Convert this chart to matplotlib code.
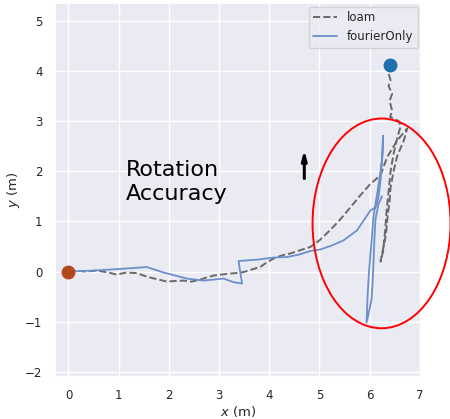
import numpy as np
import matplotlib
matplotlib.use("Agg")
import matplotlib.pyplot as plt
from matplotlib.patches import Ellipse
import seaborn as sns

# trajectory estimates (metres)
loam_x = [0.00, 0.10, 0.35, 0.57, 0.80, 0.96, 1.15, 1.36, 1.50, 1.63, 1.80, 1.96, 2.10,
          2.29, 2.45, 2.63, 2.75, 2.89, 3.05, 3.22, 3.35, 3.49, 3.65, 3.82, 3.95, 4.09,
          4.25, 4.42, 4.60, 4.82, 5.00, 5.21, 5.40, 5.62, 5.80, 6.02, 6.22, 6.35, 6.55,
          6.75, 6.68, 6.55, 6.48, 6.42, 6.40, 6.36, 6.33, 6.28, 6.22, 6.27, 6.31, 6.34,
          6.38, 6.42, 6.48, 6.55, 6.62, 6.58, 6.48, 6.41, 6.45, 6.40, 6.45, 6.38, 6.42,
          6.38, 6.35, 6.45, 6.40, 6.46]
loam_y = [0.00, 0.02, 0.00, 0.02, -0.02, -0.06, -0.02, -0.03, -0.08, -0.12, -0.16, -0.20, -0.19,
          -0.18, -0.20, -0.16, -0.12, -0.08, -0.06, -0.04, -0.03, -0.01, 0.04, 0.09, 0.18, 0.26,
          0.32, 0.36, 0.42, 0.49, 0.62, 0.82, 1.02, 1.28, 1.50, 1.75, 1.92, 2.28, 2.61,
          2.85, 2.60, 2.30, 2.00, 1.68, 1.40, 1.10, 0.75, 0.50, 0.20, 0.40, 0.80, 1.20,
          1.60, 2.00, 2.35, 2.65, 2.90, 3.00, 3.05, 3.08, 3.21, 3.40, 3.54, 3.70, 3.81,
          3.95, 4.05, 4.18, 4.10, 4.20]

fourier_x = [0.00, 0.50, 1.00, 1.56, 1.90, 2.36, 2.69, 3.09, 3.29, 3.46, 3.39, 3.79,
             4.09, 4.36, 4.60, 4.82, 5.02, 5.25, 5.48, 5.75, 6.02, 6.12, 6.18, 6.22,
             6.25, 6.27, 6.26, 6.22, 6.16, 6.08, 6.04, 5.99, 5.96, 5.95, 5.94, 5.99,
             6.04, 6.06, 6.08, 6.10, 6.12, 6.18, 6.25]
fourier_y = [0.00, 0.02, 0.05, 0.09, -0.02, -0.14, -0.18, -0.14, -0.21, -0.24, 0.21, 0.24,
             0.28, 0.29, 0.34, 0.41, 0.44, 0.52, 0.62, 0.82, 1.22, 1.28, 1.48, 1.82,
             2.28, 2.71, 2.30, 2.00, 1.60, 1.10, 0.60, 0.00, -0.50, -0.80, -1.02, -0.80,
             -0.55, -0.25, 0.20, 0.70, 1.05, 1.35, 1.50]

start = (0.0, 0.0)
end = (6.40, 4.12)

sns.set_theme(style="darkgrid")
plt.rcParams['font.family'] = ['DejaVu Sans']

fig = plt.figure(figsize=(4.5, 4.19), dpi=100)
ax = fig.add_axes([0.122, 0.100, 0.814, 0.893])

ax.plot(loam_x, loam_y, '--', color='dimgray', lw=1.4, label='loam')
ax.plot(fourier_x, fourier_y, '-', color='#6d8fcc', lw=1.3, label='fourierOnly')

ax.plot(*start, 'o', color='#b5481b', ms=9, zorder=5)
ax.plot(*end, 'o', color='#1f6fae', ms=9, zorder=5)

ax.add_patch(Ellipse((6.24, 0.96), 2.75, 4.18, fill=False, edgecolor='red',
                     lw=1.4, clip_on=False, zorder=6))

ax.text(1.15, 1.78, 'Rotation\nAccuracy', fontsize=16, color='black',
        ha='left', va='center', linespacing=1.25)
ax.annotate('', xy=(4.7, 2.48), xytext=(4.7, 1.8),
            arrowprops=dict(arrowstyle='-|>,head_width=0.12,head_length=0.45',
                            color='black', lw=2.2))

ax.set_xlim(-0.27, 7.03)
ax.set_ylim(-2.1, 5.35)
ax.set_aspect('equal')
ax.set_xticks(range(0, 8))
ax.set_yticks(range(-2, 6))
ax.tick_params(labelsize=8.5, pad=3)
ax.set_xlabel('$x$ (m)', fontsize=9.5, labelpad=1)
ax.set_ylabel('$y$ (m)', fontsize=9.5, labelpad=2)
ax.legend(loc='upper right', fontsize=8.5, borderaxespad=0.3)

fig.savefig('out.png', dpi=100)
